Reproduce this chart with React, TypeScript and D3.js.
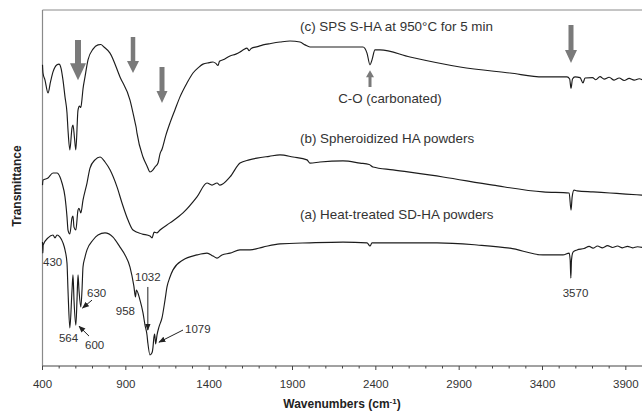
import React from 'react';
import * as d3 from 'd3';

// FTIR transmittance spectra (arbitrary units, offset for clarity)
const spectrumSPS: [number, number][] = [
  [400, 84.6], [403, 82.3], [415, 80.3], [433, 76.7], [448, 79.8], [463, 82.6], [487, 84.6], [499, 84.8],
  [511, 83.7], [523, 80.3], [535, 75.6], [547, 71.1], [553, 66.3], [564, 60.7], [577, 66.9], [583, 67.7],
  [592, 64.0], [600, 60.7], [613, 71.9], [622, 73.0], [630, 72.6], [637, 75.0], [643, 77.8], [655, 81.2],
  [673, 86.0], [703, 89.0], [733, 90.2], [750, 90.3], [769, 89.6], [805, 87.9], [865, 81.2], [925, 74.7],
  [955, 68.5], [962, 67.0], [967, 65.4], [1003, 58.7], [1027, 56.2], [1045, 54.5], [1063, 55.1], [1075, 55.9],
  [1093, 57.0], [1105, 59.6], [1117, 60.9], [1140, 64.8], [1165, 68.3], [1195, 72.0], [1225, 75.6], [1267, 79.5],
  [1303, 82.3], [1335, 83.8], [1363, 84.8], [1400, 85.2], [1423, 85.4], [1440, 85.0], [1453, 84.4], [1462, 85.6],
  [1483, 86.0], [1525, 87.1], [1560, 87.6], [1585, 88.2], [1605, 88.8], [1627, 89.3], [1640, 88.6], [1652, 89.2],
  [1690, 89.7], [1723, 90.2], [1770, 90.6], [1825, 91.0], [1885, 91.3], [1945, 91.0], [1975, 90.2], [2005, 89.6],
  [2100, 89.6], [2200, 89.6], [2323, 89.6], [2347, 87.9], [2365, 84.6], [2377, 86.0], [2395, 88.8], [2425, 88.8],
  [2605, 86.8], [2905, 84.0], [3205, 82.3], [3403, 81.2], [3547, 81.2], [3563, 80.6], [3571, 78.0], [3580, 80.6],
  [3595, 81.2], [3625, 81.0], [3643, 79.5], [3655, 80.9], [3700, 81.0], [3720, 80.4], [3745, 81.3], [3770, 80.6],
  [3800, 81.1], [3830, 80.3], [3860, 80.9], [3890, 80.2], [3920, 80.8], [3950, 80.3], [3980, 80.7], [4000, 80.4],
];

const spectrumSpheroidized: [number, number][] = [
  [400, 50.8], [403, 52.2], [433, 52.8], [463, 54.2], [487, 54.2], [505, 53.1], [517, 51.4], [535, 47.5],
  [547, 41.9], [553, 38.2], [564, 37.1], [577, 41.6], [583, 42.1], [589, 39.0], [600, 38.2], [613, 43.8],
  [619, 44.3], [630, 43.0], [643, 46.6], [667, 51.4], [685, 55.6], [715, 57.9], [745, 58.7], [775, 57.3],
  [805, 55.1], [847, 50.3], [877, 45.8], [913, 41.0], [943, 38.2], [997, 37.1], [1045, 36.5], [1057, 36.0],
  [1070, 37.6], [1087, 37.4], [1105, 38.2], [1165, 40.2], [1243, 43.0], [1327, 47.5], [1387, 51.4], [1417, 50.8],
  [1447, 51.4], [1465, 50.8], [1525, 53.1], [1585, 57.0], [1640, 57.9], [1687, 58.4], [1760, 58.9], [1825, 59.3],
  [1903, 58.7], [1987, 57.9], [2005, 57.0], [2065, 57.3], [2203, 57.6], [2305, 57.0], [2360, 56.6], [2383, 55.9],
  [2503, 55.1], [2803, 53.1], [3103, 50.8], [3403, 48.9], [3560, 48.6], [3571, 43.8], [3578, 47.5], [3589, 49.4],
  [3607, 49.2], [3703, 48.9], [3805, 48.6], [3900, 48.3], [4000, 48.0],
];

const spectrumHeatTreated: [number, number][] = [
  [400, 34.8], [402, 31.7], [404, 34.0], [433, 36.0], [463, 36.8], [475, 36.0], [487, 36.8], [505, 36.2],
  [523, 34.6], [535, 32.6], [547, 28.9], [553, 21.3], [564, 10.7], [577, 21.3], [583, 25.6], [589, 18.5],
  [600, 11.5], [607, 18.5], [613, 25.6], [619, 21.3], [630, 16.6], [637, 21.3], [643, 27.8], [655, 30.6],
  [667, 32.6], [703, 35.4], [733, 36.8], [775, 37.4], [823, 36.2], [865, 33.4], [895, 31.2], [925, 27.8],
  [948, 22.5], [958, 19.4], [963, 21.3], [985, 18.5], [1003, 14.9], [1015, 11.5], [1027, 8.7], [1032, 6.5],
  [1045, 3.1], [1057, 3.7], [1063, 5.3], [1068, 7.9], [1073, 9.0], [1079, 6.2], [1087, 8.7], [1099, 11.0],
  [1117, 13.5], [1135, 18.5], [1147, 22.2], [1165, 25.0], [1183, 27.0], [1243, 29.8], [1327, 31.2], [1387, 31.7],
  [1423, 30.9], [1447, 30.3], [1477, 31.2], [1525, 31.7], [1585, 32.6], [1645, 32.6], [1723, 33.4], [1825, 34.3],
  [2005, 34.6], [2203, 34.8], [2347, 34.6], [2365, 33.7], [2377, 34.6], [2503, 34.6], [2767, 34.6], [3007, 34.0],
  [3205, 33.1], [3403, 31.2], [3523, 31.2], [3560, 31.7], [3566, 29.8], [3570, 24.7], [3574, 29.8], [3583, 32.0],
  [3607, 32.6], [3650, 33.0], [3680, 33.6], [3703, 33.1], [3730, 33.7], [3760, 33.2], [3790, 33.8], [3820, 33.3],
  [3850, 33.7], [3880, 33.2], [3910, 33.6], [3940, 33.2], [3970, 33.5], [4000, 33.3],
];

const xTickValues = [400, 900, 1400, 1900, 2400, 2900, 3400, 3900];
const xMinorStep = 100;

// Sample captions: text, wavenumber at start, value at baseline
const captionTexts = ['(c) SPS S-HA at 950°C for 5 min', '(b) Spheroidized HA powders', '(a) Heat-treated SD-HA powders'];
const captionWave = [1945, 1945, 1945];
const captionValue = [94.1, 62.6, 41.3];

// Carbonate band note
const carbonateText = 'C-O (carbonated)';
const carbonateWave = 2365;
const carbonateArrow = { tipValue: 83.1, tailValue: 78.4 };
const carbonateTextValue = 73.9;

// Gray markers of changed bands on spectrum (c): wavenumber, top value, tip value
const bandMarkWave = [613, 943, 1117, 3571];
const bandMarkTop = [91.6, 92.4, 84.0, 95.8];
const bandMarkTip = [80.3, 82.3, 73.9, 85.1];

// Peak assignments on spectrum (a)
const peakLabels = ['430', '564', '600', '630', '958', '1032', '1079', '3570'];
const peakLabelWave = [403, 556, 655, 667, 955, 1032, 1255, 3598];
const peakLabelValue = [28.1, 6.7, 4.8, 19.4, 14.3, 23.9, 9.3, 19.4];
const peakLabelAnchor = ['start', 'middle', 'start', 'start', 'end', 'middle', 'start', 'middle'];

// Pointer arrows for peaks: tail wave, tail value, tip wave, tip value
const peakPointers: [number, number, number, number][] = [
  [697, 18.5, 640, 16.3],
  [679, 8.4, 619, 11.2],
  [1032, 22.2, 1032, 10.1],
  [1243, 10.1, 1099, 6.7],
];

const FONT = '"Liberation Sans", Arial, Helvetica, sans-serif';
const W = 642;
const H = 412;
const plotLeft = 42.5;
const plotRight = 642.5;
const plotTop = 10;
const plotBottom = 366;

export default function App() {
  const x = d3.scaleLinear().domain([400, 4000]).range([plotLeft, plotRight]);
  const y = d3.scaleLinear().domain([0, 100]).range([plotBottom, plotTop]);

  const line = d3
    .line<[number, number]>()
    .x((d) => x(d[0]))
    .y((d) => y(d[1]))
    .curve(d3.curveMonotoneX);

  const minorTicks = d3.range(400, 4000 + 1, xMinorStep).filter((v) => !xTickValues.includes(v));

  const arrowSizes = [
    { shaft: 6, headW: 16, headL: 17 },
    { shaft: 4.5, headW: 12, headL: 12 },
    { shaft: 5, headW: 11, headL: 12 },
    { shaft: 5, headW: 12, headL: 13 },
  ];

  const blockArrow = (cx: number, top: number, tip: number, shaft: number, headW: number, headL: number) => {
    const hs = shaft / 2;
    const hh = headW / 2;
    const dir = tip > top ? 1 : -1;
    const neck = tip - dir * headL;
    return `M${cx - hs},${top} L${cx + hs},${top} L${cx + hs},${neck} L${cx + hh},${neck} L${cx},${tip} L${cx - hh},${neck} L${cx - hs},${neck} Z`;
  };

  const spectra = [spectrumSPS, spectrumSpheroidized, spectrumHeatTreated];

  return (
    <svg
      width={W}
      height={H}
      viewBox={`0 0 ${W} ${H}`}
      style={{ position: 'absolute', left: 0, top: 0, display: 'block', background: '#fff' }}
      fontFamily={FONT}
    >
      <defs>
        <marker id="tip" viewBox="0 0 10 10" refX="9" refY="5" markerWidth="7" markerHeight="7" orient="auto">
          <path d="M0,1 L10,5 L0,9 Z" fill="#222" />
        </marker>
      </defs>
      <rect x={0} y={0} width={W} height={H} fill="#fff" />

      {/* frame */}
      <line x1={plotLeft} x2={plotRight} y1={plotTop} y2={plotTop} stroke="#8a8a8a" strokeWidth={1} />
      <line x1={plotLeft} x2={plotLeft} y1={plotTop} y2={plotBottom} stroke="#8a8a8a" strokeWidth={1.2} />
      <line x1={plotLeft} x2={plotRight} y1={plotBottom} y2={plotBottom} stroke="#444" strokeWidth={1} />

      {/* x ticks */}
      {minorTicks.map((t) => (
        <line key={`m${t}`} x1={x(t)} x2={x(t)} y1={plotBottom} y2={plotBottom + 2.5} stroke="#444" strokeWidth={1} />
      ))}
      {xTickValues.map((t) => (
        <g key={t}>
          <line x1={x(t)} x2={x(t)} y1={plotBottom} y2={plotBottom + 4} stroke="#444" strokeWidth={1} />
          <text x={x(t)} y={388} textAnchor="middle" fontSize={11.5} fill="#333">
            {t}
          </text>
        </g>
      ))}

      {/* axis titles */}
      <text x={342} y={408} textAnchor="middle" fontSize={12} fontWeight="bold" fill="#222">
        Wavenumbers (cm
        <tspan dy={-4} fontSize={8}>
          -1
        </tspan>
        <tspan dy={4}>)</tspan>
      </text>
      <text transform="translate(21,186) rotate(-90)" textAnchor="middle" fontSize={12} fontWeight="bold" fill="#222">
        Transmittance
      </text>

      {/* spectra */}
      {spectra.map((s, i) => (
        <path key={i} d={line(s) ?? ''} fill="none" stroke="#1c1c1c" strokeWidth={1.15} strokeLinejoin="round" />
      ))}

      {/* gray band markers */}
      {bandMarkWave.map((w, i) => (
        <path
          key={`b${i}`}
          d={blockArrow(x(w), y(bandMarkTop[i]), y(bandMarkTip[i]), arrowSizes[i].shaft, arrowSizes[i].headW, arrowSizes[i].headL)}
          fill="#7a7a7a"
        />
      ))}
      <path
        d={blockArrow(x(carbonateWave), y(carbonateArrow.tailValue), y(carbonateArrow.tipValue), 3, 8, 7)}
        fill="#7a7a7a"
      />
      <text x={x(carbonateWave) + 20} y={y(carbonateTextValue)} textAnchor="middle" fontSize={13.3} fill="#333">
        {carbonateText}
      </text>

      {/* captions */}
      {captionTexts.map((t, i) => (
        <text key={t} x={x(captionWave[i])} y={y(captionValue[i])} fontSize={13.4} fill="#333">
          {t}
        </text>
      ))}

      {/* peak labels and pointers */}
      {peakLabels.map((t, i) => (
        <text
          key={t}
          x={x(peakLabelWave[i])}
          y={y(peakLabelValue[i])}
          textAnchor={peakLabelAnchor[i] as 'start' | 'middle' | 'end'}
          fontSize={11.5}
          fill="#333"
        >
          {t}
        </text>
      ))}
      {peakPointers.map((p, i) => (
        <line
          key={`p${i}`}
          x1={x(p[0])}
          y1={y(p[1])}
          x2={x(p[2])}
          y2={y(p[3])}
          stroke="#222"
          strokeWidth={1}
          markerEnd="url(#tip)"
        />
      ))}
    </svg>
  );
}
